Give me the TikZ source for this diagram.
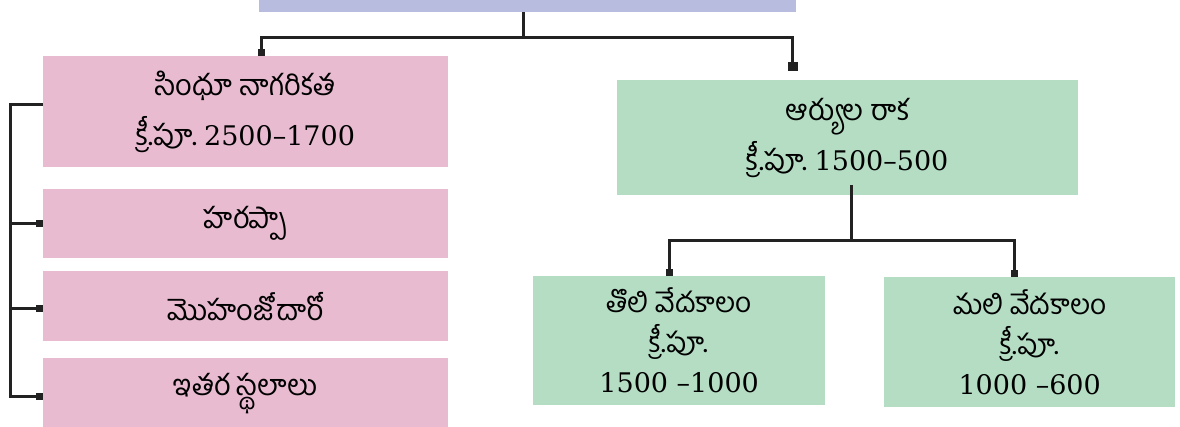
\documentclass[tikz,border=0pt]{standalone}
\usepackage{fontspec}
\usetikzlibrary{arrows.meta}
\newfontfamily\te[Script=Telugu]{Hind Guntur}
\newfontfamily\nm{DejaVu Serif}
\definecolor{pinkfill}{HTML}{E8BBD0}
\definecolor{greenfill}{HTML}{B4DDC4}
\definecolor{bluefill}{HTML}{B8BDE0}
\definecolor{linecol}{HTML}{222222}
\newcommand\yr[1]{{\nm\fontsize{27}{50}\selectfont #1}}
\begin{document}
\begin{tikzpicture}[x=1pt,y=-1pt,
  box/.style={anchor=north west,inner sep=0pt,align=center,
    font=\te\fontsize{29}{50}\selectfont},
  pinkbox/.style={box,fill=pinkfill},
  greenbox/.style={box,fill=greenfill},
  link/.style={draw=linecol,line width=3pt},
  tip/.style={link,-{Square[length=7pt,width=7pt]}}]
  \useasboundingbox (0,0) rectangle (1180,426);
  % top bar
  \node[box,fill=bluefill,minimum width=537pt,minimum height=12pt] (top) at (259,0) {};
  % left branch
  \node[pinkbox,minimum width=405pt,minimum height=111pt] (indus) at (43,56)
    {సింధూ నాగరికత\\క్రీ.పూ.\ \yr{2500–1700}};
  \node[pinkbox,minimum width=405pt,minimum height=69pt] (harappa) at (43,189) {హరప్పా};
  \node[pinkbox,minimum width=405pt,minimum height=70pt] (mohenjo) at (43,271) {మొహంజోదారో};
  \node[pinkbox,minimum width=405pt,minimum height=70pt] (others) at (43,358) {ఇతర స్థలాలు};
  % right branch
  \node[greenbox,minimum width=461pt,minimum height=115pt] (arya) at (617,80)
    {ఆర్యుల రాక\\క్రీ.పూ.\ \yr{1500–500}};
  \node[greenbox,minimum width=292pt,minimum height=129pt,
    font=\te\fontsize{28}{40}\selectfont] (early) at (533,276)
    {తొలి వేదకాలం\\క్రీ.పూ.\\\yr{1500 –1000}};
  \node[greenbox,minimum width=291pt,minimum height=130pt,
    font=\te\fontsize{28}{40}\selectfont] (late) at (884,277)
    {మలి వేదకాలం\\క్రీ.పూ.\\\yr{1000 –600}};
  % connectors
  \coordinate (j1) at (523,37);
  \coordinate (j2) at (851,240);
  \coordinate (spine) at (10,104);
  \draw[link] (top.south -| j1) -- (j1);
  \draw[tip] (j1) -| ([xshift=16pt]indus.north);
  \draw[tip,-{Square[length=9pt,width=10pt]},shorten >=9pt] (j1) -| ([xshift=-55pt]arya.north);
  \draw[link] ([yshift=10pt]j2 |- arya.south) -- (j2);
  \draw[tip] (j2) -| ([xshift=-10pt]early.north);
  \draw[tip] (j2) -| ([xshift=-15pt]late.north);
  \draw[link] (indus.west |- spine) -- (spine) |- ([yshift=-3pt]others.west);
  \draw[tip] (spine |- harappa.west) -- (harappa.west);
  \draw[tip] ([yshift=-2pt]spine |- mohenjo.west) -- ([yshift=-2pt]mohenjo.west);
  \draw[tip] ([yshift=-3pt]spine |- others.west) -- ([yshift=-3pt]others.west);
\end{tikzpicture}
\end{document}
